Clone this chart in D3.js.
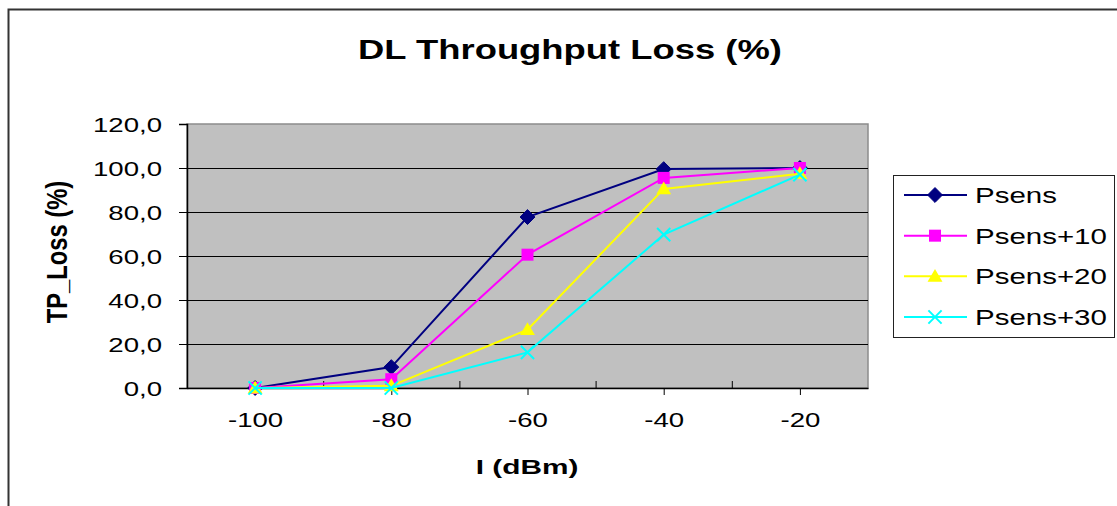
<!DOCTYPE html>
<html>
<head>
<meta charset="utf-8">
<script src="https://cdn.jsdelivr.net/npm/d3@7"></script>
<style>
  html, body { margin: 0; padding: 0; background: #fff; }
  svg { display: block; }
  text { font-family: "Liberation Sans", Arial, sans-serif; fill: #000; }
</style>
</head>
<body>
<svg id="chart" width="1117" height="506"></svg>
<script>
// Interference level (dBm) on the x axis
const levels = [-100, -80, -60, -40, -20];

// Throughput loss (%) per received power setting
const psens   = [0, 9.5, 77.7, 99.5, 100];
const psens10 = [0, 4.0, 60.6, 95.5, 100];
const psens20 = [0, 1.0, 26.5, 90.5, 97.4];
const psens30 = [0, 0.0, 16.2, 69.7, 97.0];

const seriesNames = ["Psens", "Psens+10", "Psens+20", "Psens+30"];
const yTicks = [0, 20, 40, 60, 80, 100, 120];
const xTicks = [-100, -80, -60, -40, -20];
const xMinorTicks = [-90, -70, -50, -30];

const series = [
  { name: seriesNames[0], values: psens,   color: "#000080", shape: "diamond" },
  { name: seriesNames[1], values: psens10, color: "#FF00FF", shape: "square" },
  { name: seriesNames[2], values: psens20, color: "#FFFF00", shape: "triangle" },
  { name: seriesNames[3], values: psens30, color: "#00FFFF", shape: "cross" }
];

const svg = d3.select("#chart");
const plot = { left: 187, right: 868, top: 124, bottom: 388 };

const x = d3.scaleLinear().domain([-110, -10]).range([plot.left, plot.right]);
const y = d3.scaleLinear().domain([0, 120]).range([plot.bottom, plot.top]);

const fmtY = v => v.toFixed(1).replace(".", ",");
const fmtX = v => String(v);

// outer chart frame
svg.append("rect")
  .attr("x", 8.5).attr("y", 9.5)
  .attr("width", 1200).attr("height", 600)
  .attr("fill", "none").attr("stroke", "#333").attr("stroke-width", 2);

// plot background
svg.append("rect")
  .attr("x", plot.left).attr("y", plot.top)
  .attr("width", plot.right - plot.left).attr("height", plot.bottom - plot.top)
  .attr("fill", "#C0C0C0").attr("stroke", "#8c8c8c").attr("stroke-width", 1.5);

// horizontal gridlines
svg.append("g")
  .selectAll("line")
  .data(yTicks.filter(t => t > 0 && t < 120))
  .join("line")
  .attr("x1", plot.left).attr("x2", plot.right)
  .attr("y1", d => Math.round(y(d)) + 0.5).attr("y2", d => Math.round(y(d)) + 0.5)
  .attr("stroke", "#000").attr("stroke-width", 1);

// y axis
const yAxis = svg.append("g")
  .attr("transform", `translate(${plot.left},0)`)
  .call(d3.axisLeft(y).tickValues(yTicks).tickFormat(fmtY).tickSize(8).tickPadding(0));
yAxis.select(".domain").attr("stroke", "#000").attr("stroke-width", 1.5);
yAxis.selectAll(".tick line").attr("stroke", "#000");
const ySx = 1.38;
yAxis.selectAll(".tick text")
  .attr("x", -25 / ySx).attr("dy", "0.36em")
  .attr("transform", `scale(${ySx},1)`)
  .style("font-size", "20px");

// x axis, major ticks pointing out
const xAxis = svg.append("g")
  .attr("transform", `translate(0,${plot.bottom})`)
  .call(d3.axisBottom(x).tickValues(xTicks).tickFormat(fmtX).tickSize(7).tickSizeOuter(0));
xAxis.select(".domain").attr("stroke", "#000").attr("stroke-width", 1.5);
xAxis.selectAll(".tick line").attr("stroke", "#000");
const xSx = 1.38;
xAxis.selectAll(".tick text")
  .attr("y", 39).attr("dy", 0)
  .attr("transform", `scale(${xSx},1)`)
  .style("font-size", "20px");

// x axis minor ticks pointing into the plot
svg.append("g")
  .attr("transform", `translate(0,${plot.bottom})`)
  .call(d3.axisTop(x).tickValues(xMinorTicks).tickSize(7).tickFormat(""))
  .call(g => g.select(".domain").remove())
  .selectAll(".tick line").attr("stroke", "#000");

// lines
const line = d3.line()
  .x((d, i) => x(levels[i]))
  .y(d => y(d));

function drawMarker(g, shape, color, cx, cy, s) {
  if (shape === "diamond") {
    g.append("path")
      .attr("d", `M${cx},${cy - s * 0.62}L${cx + s * 0.62},${cy}L${cx},${cy + s * 0.62}L${cx - s * 0.62},${cy}Z`)
      .attr("fill", color).attr("stroke", color).attr("stroke-width", 1);
  } else if (shape === "square") {
    g.append("rect")
      .attr("x", cx - s / 2).attr("y", cy - s / 2)
      .attr("width", s).attr("height", s)
      .attr("fill", color);
  } else if (shape === "triangle") {
    g.append("path")
      .attr("d", `M${cx},${cy - s * 0.62}L${cx + s * 0.62},${cy + s * 0.45}L${cx - s * 0.62},${cy + s * 0.45}Z`)
      .attr("fill", color);
  } else {
    const h = s * 0.55;
    g.append("path")
      .attr("d", `M${cx - h},${cy - h}L${cx + h},${cy + h}M${cx - h},${cy + h}L${cx + h},${cy - h}`)
      .attr("stroke", color).attr("stroke-width", 2).attr("fill", "none");
  }
}

series.forEach(s => {
  const g = svg.append("g");
  g.append("path")
    .datum(s.values)
    .attr("d", line)
    .attr("fill", "none")
    .attr("stroke", s.color)
    .attr("stroke-width", 2);
  s.values.forEach((v, i) => drawMarker(g, s.shape, s.color, x(levels[i]), y(v), 12));
});

// title
svg.append("text")
  .attr("transform", `translate(570,59) scale(1.3,1)`)
  .attr("text-anchor", "middle")
  .style("font-size", "28px").style("font-weight", "bold")
  .text("DL Throughput Loss (%)");

// x axis title
svg.append("text")
  .attr("transform", `translate(527,474) scale(1.42,1)`)
  .attr("text-anchor", "middle")
  .style("font-size", "21px").style("font-weight", "bold")
  .text("I (dBm)");

// y axis title
svg.append("text")
  .attr("transform", `translate(67,252) rotate(-90) scale(1.08,1.3)`)
  .attr("text-anchor", "middle")
  .style("font-size", "22px").style("font-weight", "bold")
  .text("TP_Loss (%)");

// legend
const legend = svg.append("g");
legend.append("rect")
  .attr("x", 893.5).attr("y", 175.5)
  .attr("width", 221).attr("height", 162)
  .attr("fill", "#fff").attr("stroke", "#222").attr("stroke-width", 1);

const legendY = d3.scalePoint().domain(seriesNames).range([195, 317]);
series.forEach(s => {
  const cy = legendY(s.name);
  legend.append("line")
    .attr("x1", 904).attr("x2", 967)
    .attr("y1", cy).attr("y2", cy)
    .attr("stroke", s.color).attr("stroke-width", 2);
  drawMarker(legend, s.shape, s.color, 935, cy, 12);
  legend.append("text")
    .attr("transform", `translate(975,${cy + 8}) scale(1.34,1)`)
    .style("font-size", "22px")
    .text(s.name);
});
</script>
</body>
</html>
